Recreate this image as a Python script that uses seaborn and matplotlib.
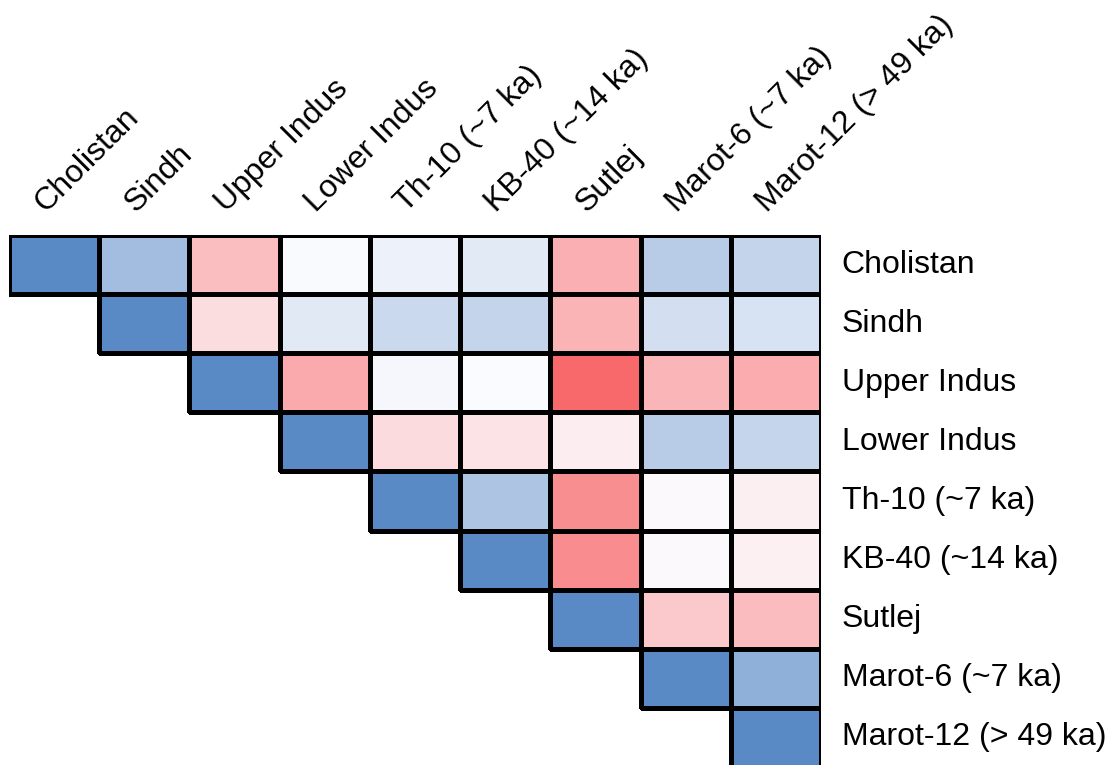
import numpy as np
import pandas as pd
import matplotlib
matplotlib.use("Agg")
import matplotlib.pyplot as plt
import matplotlib.transforms as mtransforms
from matplotlib.colors import LinearSegmentedColormap
import seaborn as sns

# Sample groups (same order for rows and columns)
groups = ["Cholistan", "Sindh", "Upper Indus", "Lower Indus", "Th-10 (~7 ka)",
          "KB-40 (~14 ka)", "Sutlej", "Marot-6 (~7 ka)", "Marot-12 (> 49 ka)"]

# Upper-triangle values, row by row
row_cholistan = [1.00, 0.55, -0.42, 0.02, 0.09, 0.16, -0.52, 0.42, 0.35]
row_sindh = [1.00, -0.21, 0.17, 0.31, 0.35, -0.49, 0.25, 0.23]
row_upper_indus = [1.00, -0.56, 0.04, 0.01, -1.00, -0.48, -0.54]
row_lower_indus = [1.00, -0.22, -0.17, -0.10, 0.42, 0.34]
row_th10 = [1.00, 0.49, -0.75, -0.02, -0.09]
row_kb40 = [1.00, -0.76, -0.02, -0.08]
row_sutlej = [1.00, -0.35, -0.43]
row_marot6 = [1.00, 0.67]
row_marot12 = [1.00]

rows = [row_cholistan, row_sindh, row_upper_indus, row_lower_indus, row_th10,
        row_kb40, row_sutlej, row_marot6, row_marot12]

n = len(groups)
mat = np.full((n, n), np.nan)
for i, vals in enumerate(rows):
    mat[i, i:] = vals
df = pd.DataFrame(mat, index=groups, columns=groups)
mask = np.tril(np.ones((n, n), dtype=bool), k=-1)

# Excel-style red / white / blue scale
cmap = LinearSegmentedColormap.from_list("rwb", ["#F8696B", "#FCFCFF", "#5A8AC6"])

sns.set_style("white")
plt.rcParams["font.family"] = ["Liberation Sans", "DejaVu Sans"]
plt.rcParams["text.color"] = "black"

fig = plt.figure(figsize=(11.13, 7.65), dpi=100)
ax = fig.add_axes([9 / 1113, -2 / 765, 812 / 1113, 532 / 765])

sns.heatmap(df, mask=mask, cmap=cmap, vmin=-1, vmax=1, center=0, cbar=False,
            linewidths=2.2, linecolor="black", square=False, ax=ax)

# no borders on the hidden lower triangle
mesh = ax.collections[0]
edges = np.array([[0, 0, 0, 0 if m else 1] for m in mask.ravel()], dtype=float)
mesh.set_edgecolor(edges)

ax.xaxis.tick_top()
ax.yaxis.tick_right()
ax.tick_params(length=0, pad=0, colors="black")
ax.set_xticklabels(groups, rotation=45, ha="left", va="baseline",
                   rotation_mode="anchor", fontsize=23, color="black")
ax.set_yticklabels(groups, rotation=0, ha="left", va="center", fontsize=23,
                   color="black")
ax.tick_params(axis="y", pad=15)
ax.set_xlabel("")
ax.set_ylabel("")

shift = mtransforms.ScaledTranslation(-9 / 100, 22 / 100, fig.dpi_scale_trans)
for lbl in ax.get_xticklabels():
    lbl.set_transform(lbl.get_transform() + shift)

for s in ax.spines.values():
    s.set_visible(False)

fig.savefig("out.png", dpi=100)
